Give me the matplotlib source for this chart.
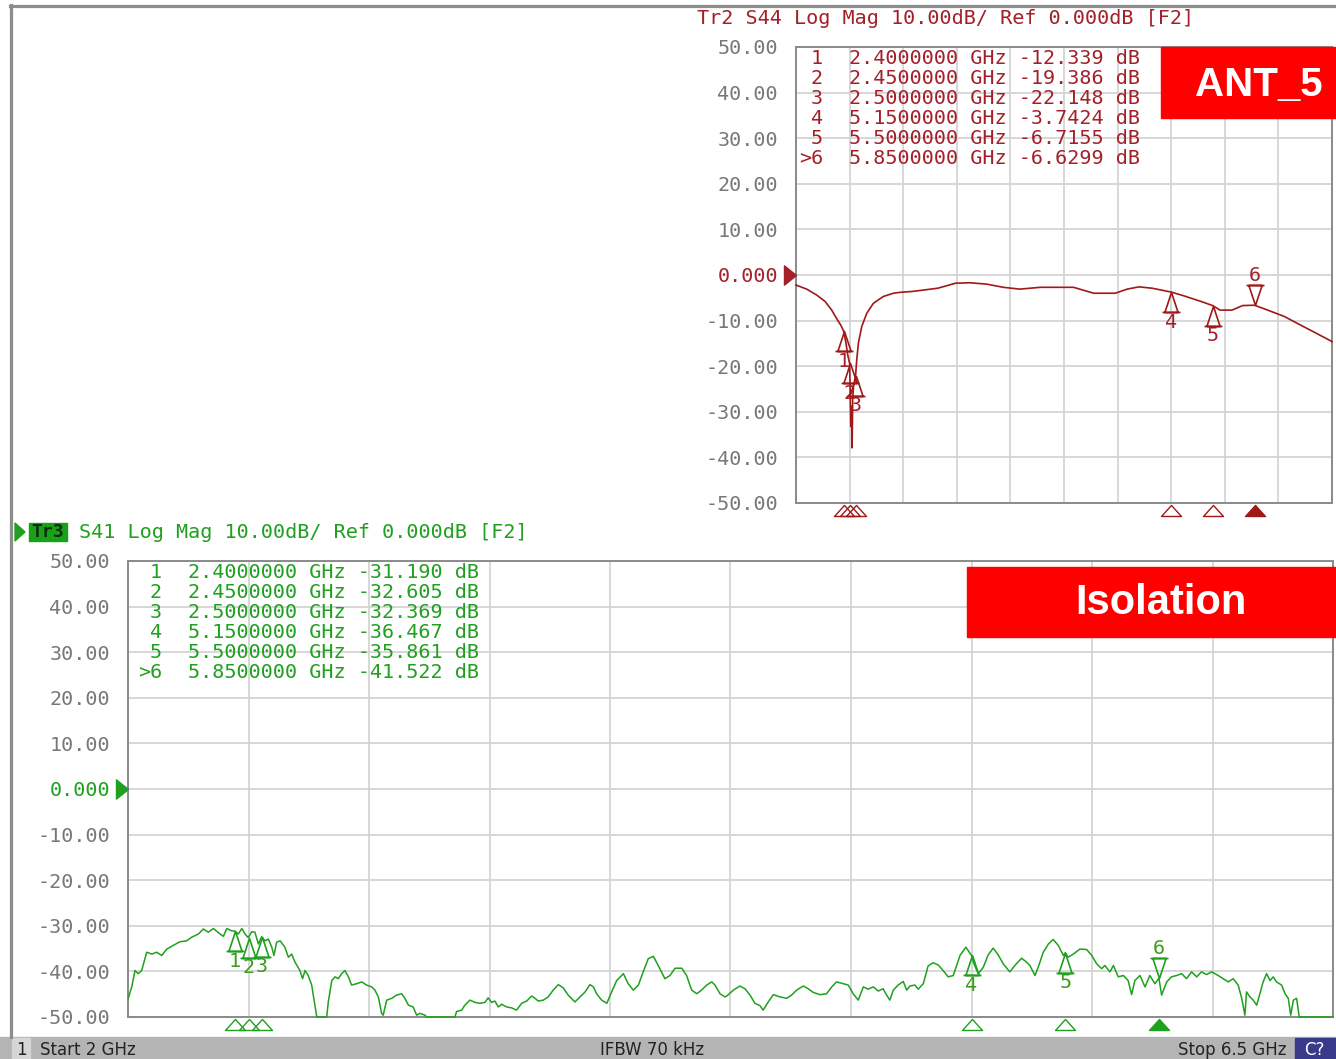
import matplotlib
matplotlib.use('Agg')
import matplotlib.pyplot as plt
from matplotlib.path import Path
from matplotlib.patches import Rectangle, Polygon
from matplotlib.lines import Line2D

W, H = 1336, 1059

# ---------------- data ----------------
f_start, f_stop = 2.0, 6.5
grid_freqs = [2.0, 2.45, 2.9, 3.35, 3.8, 4.25, 4.7, 5.15, 5.6, 6.05, 6.5]
ytick_vals = [50, 40, 30, 20, 10, 0, -10, -20, -30, -40, -50]
ytick_labels = ['50.00', '40.00', '30.00', '20.00', '10.00', '0.000',
                '-10.00', '-20.00', '-30.00', '-40.00', '-50.00']

s44_freq = [2.000, 2.090, 2.174, 2.244, 2.300, 2.342, 2.376, 2.400, 2.420, 2.434,
            2.450, 2.454, 2.460, 2.465, 2.471, 2.476, 2.482, 2.500, 2.510, 2.524,
            2.552, 2.594, 2.650, 2.734, 2.818, 2.874, 2.98, 3.19, 3.34, 3.46,
            3.60, 3.74, 3.88, 4.05, 4.33, 4.50, 4.68, 4.78, 4.88, 4.99,
            5.15, 5.26, 5.40, 5.50, 5.56, 5.66, 5.75, 5.85, 5.96, 6.10,
            6.23, 6.37, 6.50]
s44_db = [-2.2, -3.1, -4.4, -5.8, -7.7, -9.6, -11.0, -12.3, -15.0, -17.5,
          -19.4, -24.4, -33.2, -28.8, -37.9, -27.3, -24.4, -22.1, -18.6, -14.9,
          -11.3, -8.4, -6.2, -4.7, -4.0, -3.8, -3.6, -2.9, -1.8, -1.7,
          -2.0, -2.7, -3.1, -2.7, -2.7, -4.0, -4.0, -3.1, -2.6, -2.9,
          -3.74, -4.6, -5.8, -6.72, -7.7, -7.7, -6.7, -6.63, -7.7, -9.1,
          -10.9, -12.8, -14.6]

s41_freq = [2.001, 2.014, 2.026, 2.038, 2.051, 2.070, 2.089, 2.107, 2.126, 2.145,
            2.169, 2.194, 2.219, 2.238, 2.263, 2.281, 2.300, 2.319, 2.344, 2.356,
            2.369, 2.387, 2.400, 2.412, 2.425, 2.437, 2.449, 2.462, 2.474, 2.487,
            2.499, 2.512, 2.524, 2.537, 2.545, 2.555, 2.568, 2.586, 2.599, 2.611,
            2.624, 2.642, 2.652, 2.661, 2.673, 2.686, 2.698, 2.705, 2.742, 2.748,
            2.761, 2.773, 2.785, 2.798, 2.810, 2.823, 2.835, 2.854, 2.873, 2.891,
            2.910, 2.922, 2.935, 2.947, 2.953, 2.966, 2.985, 3.003, 3.022, 3.034,
            3.047, 3.065, 3.078, 3.090, 3.109, 3.116, 3.221, 3.227, 3.246, 3.258,
            3.277, 3.296, 3.314, 3.333, 3.345, 3.358, 3.370, 3.383, 3.395, 3.414,
            3.433, 3.451, 3.470, 3.489, 3.507, 3.520, 3.532, 3.551, 3.569, 3.588,
            3.607, 3.625, 3.644, 3.669, 3.688, 3.707, 3.725, 3.738, 3.750, 3.769,
            3.788, 3.806, 3.825, 3.850, 3.868, 3.887, 3.906, 3.924, 3.943, 3.962,
            3.980, 4.005, 4.024, 4.043, 4.068, 4.086, 4.105, 4.124, 4.142, 4.161,
            4.180, 4.192, 4.211, 4.229, 4.236, 4.261, 4.285, 4.304, 4.323, 4.341,
            4.360, 4.372, 4.391, 4.410, 4.435, 4.460, 4.478, 4.497, 4.522, 4.540,
            4.559, 4.584, 4.609, 4.628, 4.646, 4.671, 4.690, 4.708, 4.727, 4.746,
            4.764, 4.783, 4.802, 4.820, 4.833, 4.845, 4.858, 4.876, 4.895, 4.908,
            4.920, 4.939, 4.951, 4.970, 4.988, 5.007, 5.026, 5.044, 5.063, 5.082,
            5.107, 5.129, 5.150, 5.157, 5.175, 5.194, 5.212, 5.231, 5.250, 5.268,
            5.293, 5.312, 5.337, 5.356, 5.368, 5.387, 5.399, 5.418, 5.437, 5.455,
            5.474, 5.493, 5.500, 5.511, 5.530, 5.555, 5.580, 5.599, 5.617, 5.636,
            5.648, 5.667, 5.680, 5.698, 5.717, 5.735, 5.748, 5.760, 5.779, 5.798,
            5.816, 5.835, 5.850, 5.860, 5.879, 5.897, 5.916, 5.935, 5.953, 5.972,
            5.991, 6.009, 6.028, 6.047, 6.071, 6.090, 6.109, 6.127, 6.146, 6.159,
            6.171, 6.177, 6.190, 6.202, 6.215, 6.227, 6.239, 6.252, 6.265, 6.277,
            6.289, 6.308, 6.321, 6.333, 6.342, 6.352, 6.364, 6.374, 6.500]
s41_db = [-45.9, -43.4, -39.8, -40.5, -39.8, -35.8, -36.2, -35.8, -36.5, -35.1,
          -34.3, -33.5, -33.3, -32.5, -31.8, -30.7, -31.4, -30.6, -31.8, -32.3,
          -30.6, -31.1, -31.2, -31.8, -30.6, -31.8, -32.6, -31.3, -31.4, -34.0,
          -32.4, -33.3, -32.9, -34.7, -36.5, -33.6, -33.3, -34.7, -36.9, -36.2,
          -38.0, -39.8, -41.6, -39.8, -40.9, -43.0, -47.4, -50.0, -50.0, -46.7,
          -42.0, -41.2, -41.6, -40.5, -39.8, -41.2, -43.0, -42.7, -42.3, -43.0,
          -43.4, -44.1, -45.6, -49.2, -49.6, -46.3, -45.9, -45.2, -44.9, -45.9,
          -47.4, -47.8, -49.6, -49.2, -49.6, -50.0, -50.0, -48.8, -48.5, -47.4,
          -46.3, -46.8, -47.0, -46.8, -45.8, -46.8, -46.5, -47.8, -47.2, -47.8,
          -48.0, -48.5, -47.0, -46.5, -45.4, -45.9, -46.5, -46.3, -45.6, -44.1,
          -42.9, -43.6, -45.2, -46.7, -45.6, -44.5, -42.9, -43.4, -44.9, -46.3,
          -47.0, -44.5, -42.0, -40.5, -42.7, -44.1, -43.0, -40.1, -37.2, -36.7,
          -38.7, -41.6, -40.9, -39.3, -39.3, -40.9, -44.1, -44.9, -44.1, -43.0,
          -42.3, -43.0, -44.9, -45.6, -45.4, -44.1, -43.2, -43.8, -45.2, -47.0,
          -47.5, -48.5, -46.7, -45.1, -45.6, -45.9, -45.2, -44.1, -43.2, -43.8,
          -44.6, -45.1, -44.9, -43.4, -42.3, -42.7, -43.0, -44.9, -46.3, -43.4,
          -43.9, -43.4, -44.3, -43.8, -45.2, -46.3, -44.1, -43.0, -42.2, -44.1,
          -43.2, -43.0, -43.9, -42.7, -38.8, -38.1, -38.6, -39.8, -41.2, -40.9,
          -36.5, -34.7, -36.5, -38.0, -40.5, -39.1, -36.4, -34.9, -36.4, -38.3,
          -40.1, -38.7, -37.1, -38.0, -38.7, -40.9, -39.1, -35.8, -34.0, -33.0,
          -34.3, -36.5, -35.9, -36.9, -36.2, -35.1, -35.2, -36.5, -38.3, -39.4,
          -38.7, -40.1, -38.7, -41.2, -40.9, -42.0, -45.1, -42.0, -40.9, -43.4,
          -40.9, -42.7, -41.5, -45.2, -42.3, -41.2, -40.9, -40.5, -41.6, -40.1,
          -41.2, -40.1, -40.7, -40.1, -40.9, -41.6, -42.3, -41.6, -43.0, -45.9,
          -49.6, -44.5, -45.6, -46.3, -47.4, -44.9, -42.3, -40.5, -42.0, -41.2,
          -42.3, -43.0, -44.9, -45.9, -49.6, -46.3, -45.9, -50.0, -50.0]

marker_ids = ['1', '2', '3', '4', '5', '>6']
marker_freq = [2.40, 2.45, 2.50, 5.15, 5.50, 5.85]
s44_marker_txt = ['-12.339', '-19.386', '-22.148', '-3.7424', '-6.7155', '-6.6299']
s41_marker_txt = ['-31.190', '-32.605', '-32.369', '-36.467', '-35.861', '-41.522']
s44_marker_db = [float(t) for t in s44_marker_txt]
s41_marker_db = [float(t) for t in s41_marker_txt]
active_marker = 5

# ---------------- style ----------------
MONO = 'DejaVu Sans Mono'
RED = '#a3202a'
TRACE_RED = '#a01818'
GREEN = '#1fa01f'
LBL_GREEN = '#3c9c1c'
GREY = '#787878'
GRID = '#d4d4d4'
SPINE = '#8a8a8a'
FS = 14.5

fig = plt.figure(figsize=(W / 100, H / 100), dpi=100)
fig.patch.set_facecolor('white')


def fx(x):
    return x / W


def fy(y):
    return 1 - y / H


ax_top = fig.add_axes([fx(796), fy(503), 536 / W, 456 / H])
ax_bot = fig.add_axes([fx(128), fy(1017), 1205 / W, 456 / H])

up_m = Path([(0, 0), (-0.33, -1), (0.33, -1), (0, 0), (-0.45, -1), (0.45, -1)],
            [Path.MOVETO, Path.LINETO, Path.LINETO, Path.CLOSEPOLY, Path.MOVETO, Path.LINETO])
down_m = Path([(0, 0), (-0.33, 1), (0.33, 1), (0, 0), (-0.45, 1), (0.45, 1)],
              [Path.MOVETO, Path.LINETO, Path.LINETO, Path.CLOSEPOLY, Path.MOVETO, Path.LINETO])
axis_m = Path([(0, -0.15), (-0.77, -1), (0.77, -1), (0, -0.15)],
              [Path.MOVETO, Path.LINETO, Path.LINETO, Path.CLOSEPOLY])
ref_m = Path([(0, 0), (-1, 0.8), (-1, -0.8), (0, 0)],
             [Path.MOVETO, Path.LINETO, Path.LINETO, Path.CLOSEPOLY])


def style(ax, refcolor):
    ax.set_xlim(f_start, f_stop)
    ax.set_ylim(-50, 50)
    ax.set_xticks(grid_freqs)
    ax.set_xticklabels([])
    ax.set_yticks(ytick_vals)
    ax.set_yticklabels(ytick_labels)
    ax.tick_params(length=0)
    ax.tick_params(axis='y', pad=13, labelsize=FS, labelcolor=GREY)
    for lab in ax.get_yticklabels():
        lab.set_fontfamily(MONO)
    ax.get_yticklabels()[ytick_vals.index(0)].set_color(refcolor)
    ax.grid(True, color=GRID, lw=1.3)
    ax.set_axisbelow(True)
    for s in ax.spines.values():
        s.set_color(SPINE)
        s.set_linewidth(1.4)
    ax.plot([f_start], [0], marker=ref_m, ms=17.3, color=refcolor, clip_on=False, zorder=5)


def draw_markers(ax, vals, color, lblcolor):
    for i, (f, v) in enumerate(zip(marker_freq, vals)):
        num = marker_ids[i].lstrip('>')
        if i == active_marker:
            ax.plot([f], [v], marker=down_m, ms=28.8, mfc='none', mec=color, mew=1.2,
                    clip_on=False, zorder=4)
            ax.annotate(num, (f, v), xytext=(0, 30), textcoords='offset pixels',
                        ha='center', va='center', fontfamily=MONO, fontsize=FS, color=lblcolor)
            ax.plot([f], [-50], marker=axis_m, ms=18.7, mfc=color, mec=color, mew=1.0,
                    clip_on=False, zorder=4)
        else:
            ax.plot([f], [v], marker=up_m, ms=28.8, mfc='none', mec=color, mew=1.2,
                    clip_on=False, zorder=4)
            ax.annotate(num, (f, v), xytext=(0, -30), textcoords='offset pixels',
                        ha='center', va='center', fontfamily=MONO, fontsize=FS, color=lblcolor)
            ax.plot([f], [-50], marker=axis_m, ms=18.7, mfc='none', mec=color, mew=1.0,
                    clip_on=False, zorder=4)


style(ax_top, RED)
style(ax_bot, GREEN)
ax_top.plot(s44_freq, s44_db, color=TRACE_RED, lw=1.2, clip_on=False, zorder=3)
ax_bot.plot(s41_freq, s41_db, color=GREEN, lw=1.1, clip_on=False, zorder=3)
draw_markers(ax_top, s44_marker_db, TRACE_RED, RED)
draw_markers(ax_bot, s41_marker_db, GREEN, LBL_GREEN)

# ---------------- headers ----------------
fig.text(fx(697), fy(18), 'Tr2 S44 Log Mag 10.00dB/ Ref 0.000dB [F2]',
         fontfamily=MONO, fontsize=FS, color=RED, va='center', ha='left')

fig.patches.append(Polygon([[fx(15), fy(523)], [fx(25), fy(532)], [fx(15), fy(541)]],
                           closed=True, transform=fig.transFigure, color=GREEN))
fig.patches.append(Rectangle((fx(29), fy(541)), 38 / W, 18 / H, transform=fig.transFigure,
                             color='#19a019'))
fig.text(fx(48), fy(532), 'Tr3', fontfamily=MONO, fontsize=13, color='#0d2e0d',
         va='center', ha='center', fontweight='bold')
fig.text(fx(79), fy(532), 'S41 Log Mag 10.00dB/ Ref 0.000dB [F2]',
         fontfamily=MONO, fontsize=FS, color=GREEN, va='center', ha='left')

# ---------------- marker tables ----------------
for i in range(len(marker_ids)):
    ftxt = f'{marker_freq[i]:.7f} GHz {s44_marker_txt[i]:>7s} dB'
    y = 59 + 19.8 * i
    fig.text(fx(823), fy(y), marker_ids[i], fontfamily=MONO, fontsize=FS, color=RED,
             va='center', ha='right')
    fig.text(fx(849), fy(y), ftxt, fontfamily=MONO, fontsize=FS, color=RED,
             va='center', ha='left')
    gtxt = f'{marker_freq[i]:.7f} GHz {s41_marker_txt[i]:>7s} dB'
    y2 = 573 + 19.8 * i
    fig.text(fx(162), fy(y2), marker_ids[i], fontfamily=MONO, fontsize=FS, color=GREEN,
             va='center', ha='right')
    fig.text(fx(188), fy(y2), gtxt, fontfamily=MONO, fontsize=FS, color=GREEN,
             va='center', ha='left')

# ---------------- red labels ----------------
fig.patches.append(Rectangle((fx(1161), fy(118)), (W - 1161) / W, 71 / H,
                             transform=fig.transFigure, color='#ff0000', zorder=10))
fig.text(fx(1259), fy(85), 'ANT_5', fontfamily='Liberation Sans', fontweight='bold',
         fontsize=29, color='white', ha='center', va='center', zorder=11)
fig.patches.append(Rectangle((fx(967), fy(637)), (W - 967) / W, 70 / H,
                             transform=fig.transFigure, color='#ff0000', zorder=10))
fig.text(fx(1161), fy(603), 'Isolation', fontfamily='Liberation Sans', fontweight='bold',
         fontsize=30, color='white', ha='center', va='center', zorder=11)

# ---------------- frame & status bar ----------------
fig.add_artist(Line2D([fx(10), 1], [fy(6), fy(6)], color='#8c8c8c', lw=2.3))
fig.add_artist(Line2D([fx(11), fx(11)], [fy(5), fy(1037)], color='#8c8c8c', lw=2.3))
fig.patches.append(Rectangle((0, 0), 1, 22 / H, transform=fig.transFigure, color='#b4b4b4'))
fig.patches.append(Rectangle((fx(12), 0), 18 / W, 21 / H, transform=fig.transFigure,
                             color='#d6d6d6'))
fig.patches.append(Rectangle((fx(1295), 0), (W - 1295) / W, 21 / H,
                             transform=fig.transFigure, color='#3a3a8c'))
SB = dict(fontfamily='DejaVu Sans', fontsize=12, color='#222222', va='center')
fig.text(fx(21), fy(1050), '1', ha='center', **SB)
fig.text(fx(40), fy(1050), 'Start 2 GHz', ha='left', **SB)
fig.text(fx(600), fy(1050), 'IFBW 70 kHz', ha='left', **SB)
fig.text(fx(1286), fy(1050), 'Stop 6.5 GHz', ha='right', **SB)
fig.text(fx(1314), fy(1050), 'C?', ha='center', fontfamily='DejaVu Sans', fontsize=12,
         color='white', va='center')

fig.savefig('out.png', dpi=100)
